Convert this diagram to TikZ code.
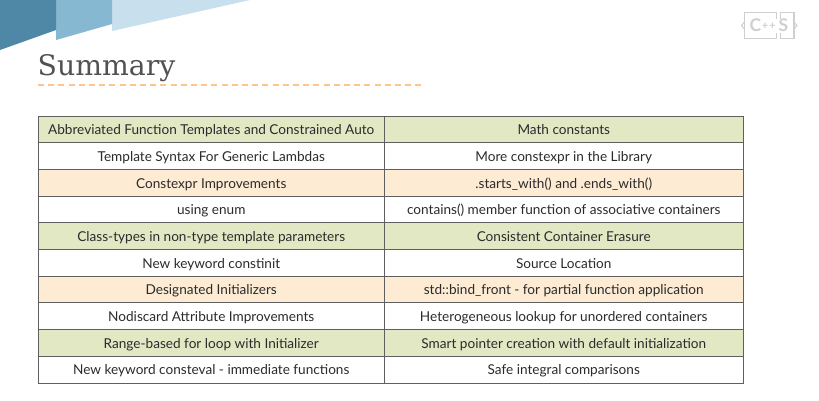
\documentclass[tikz,border=0pt]{standalone}
\usepackage{fontspec}
\setmainfont{Lato}
\newfontfamily\titlefont{DejaVu Serif}
\definecolor{gr}{HTML}{E2E8C4}
\definecolor{or}{HTML}{FDEBD3}
\definecolor{wh}{HTML}{FFFFFF}
\definecolor{tline}{HTML}{5F5F5F}
\definecolor{ttext}{HTML}{2B2B2B}
\definecolor{band1}{HTML}{4F87A6}
\definecolor{band2}{HTML}{86B8D2}
\definecolor{band3}{HTML}{C8E0EE}
\definecolor{logo}{HTML}{CFCFCF}
\tikzset{
  x=1pt,y=-1pt,
  cellbox/.style={draw=tline,line width=0.9pt,inner sep=0pt,outer sep=0pt,text=ttext,
    font=\fontsize{13.6}{15}\selectfont,anchor=north west,align=center,
    minimum height=26.7pt,text height=14pt,text depth=3.4pt},
  cl/.style={cellbox,minimum width=345.5pt},
  cr/.style={cellbox,minimum width=359.5pt},
  logoline/.style={draw=logo,line width=1.4pt},
  logotxt/.style={inner sep=0pt,text=logo,font=\fontsize{17.5}{20}\selectfont\bfseries},
  logoplus/.style={inner sep=0pt,text=logo,font=\fontsize{11}{14}\selectfont\bfseries}
}
\begin{document}
\begin{tikzpicture}
\useasboundingbox (0,0) rectangle (819,400);
\fill[white] (0,0) rectangle (819,400);
\fill[band3] (112,0) -- (250,0) -- (112,31) -- cycle;
\fill[band2] (56,0) -- (112,0) -- (112,24) -- (56,40) -- cycle;
\fill[band1] (0,0) -- (56,0) -- (56,30) -- (0,50) -- cycle;
\node[anchor=base west,inner sep=0pt,text=black!68,font=\titlefont\fontsize{28.3}{32}\selectfont] (title) at (37.5,75.5) {Summary};
\coordinate (ruleL) at (38,85);
\coordinate (ruleR) at (422,85);
\draw[draw=orange!45,line width=2pt,dash pattern=on 6pt off 4.2pt] (ruleL) -- (ruleR);
\foreach \n/\y/\c/\a/\b in {
 1/116/gr/{Abbreviated Function Templates and Constrained Auto}/{Math constants},
 2/142.7/wh/{Template Syntax For Generic Lambdas}/{More constexpr in the Library},
 3/169.4/or/{Constexpr Improvements}/{.starts\_with() and .ends\_with()},
 4/196.1/wh/{using enum}/{contains() member function of associative containers},
 5/222.8/gr/{Class-types in non-type template parameters}/{Consistent Container Erasure},
 6/249.5/wh/{New keyword constinit}/{Source Location},
 7/276.2/or/{Designated Initializers}/{std::bind\_front - for partial function application},
 8/302.9/wh/{Nodiscard Attribute Improvements}/{Heterogeneous lookup for unordered containers},
 9/329.6/gr/{Range-based for loop with Initializer}/{Smart pointer creation with default initialization},
 10/356.3/wh/{New keyword consteval - immediate functions}/{Safe integral comparisons}}{
  \node[cl,fill=\c] (l\n) at (38.5,\y) {\a};
  \node[cr,fill=\c] (r\n) at (384,\y) {\b};
}
% logo
\draw[logoline] (776.5,18.5) -- (776.5,12.5) -- (744.5,12.5) -- (744.5,38.5) -- (776.5,38.5) -- (776.5,32.5);
\draw[logoline] (780.5,18.5) -- (780.5,12.5) -- (794,12.5) -- (794,38.5) -- (780.5,38.5) -- (780.5,32.5);
\draw[draw=logo,line width=1pt] (744.5,22) -- (741.5,25.5) -- (744.5,29);
\draw[draw=logo,line width=1pt] (794,22) -- (797,25.5) -- (794,29);
\node[logotxt] (logoc) at (755.5,25.5) {C};
\node[logoplus] (logop) at (765,26) {+};
\node[logoplus] (logoq) at (772.5,26) {+};
\node[logotxt] (logos) at (783.5,25.5) {S};
\end{tikzpicture}
\end{document}
